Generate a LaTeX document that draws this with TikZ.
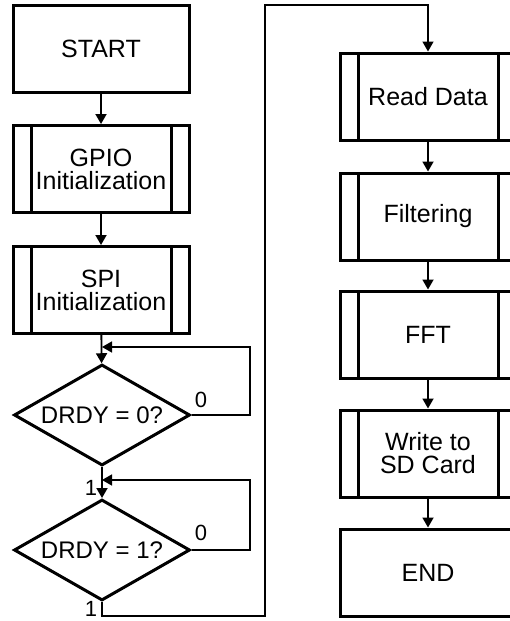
\documentclass[tikz,border=0pt]{standalone}
\usepackage{fontspec}
\setmainfont{Liberation Sans}
\usetikzlibrary{shapes.geometric,arrows.meta}
\begin{document}
\begin{tikzpicture}[x=1pt,y=-1pt,
 box/.style={draw,line width=3pt,minimum width=176pt,minimum height=87pt,inner sep=0pt,align=center,font=\fontsize{25}{23}\selectfont},
 proc/.style={box,path picture={\draw[line width=3pt]
   ([xshift=18pt]path picture bounding box.north west) -- ([xshift=18pt]path picture bounding box.south west)
   ([xshift=-18pt]path picture bounding box.north east) -- ([xshift=-18pt]path picture bounding box.south east);}},
 dec/.style={draw,diamond,line width=3pt,minimum width=176pt,minimum height=101pt,inner sep=0pt,aspect=1.7,font=\fontsize{24}{23}\selectfont},
 arr/.style={line width=1.8pt,-{Triangle[length=10pt,width=11pt]}},
 loop/.style={line width=1.5pt,-{Triangle[length=10pt,width=11pt]}},
 lbl/.style={font=\fontsize{22}{22}\selectfont,inner sep=0pt}]
\useasboundingbox (0,0) rectangle (510,621);
\clip (0,0) rectangle (510,621);
\fill[white] (0,0) rectangle (510,621);
% left column
\node[box]  (start) at (101,49)  {START};
\node[proc] (gpio)  at (101,169) {GPIO\\Initialization};
\node[proc] (spi)   at (101,290) {SPI\\Initialization};
\node[dec]  (d1)    at (102,415) {DRDY = 0?};
\node[dec]  (d2)    at (102,550) {DRDY = 1?};
% right column
\node[proc] (rd)    at (428,96.5)  {Read Data};
\node[proc] (filt)  at (428,216.5) {Filtering};
\node[proc] (fft)   at (428,334.5) {FFT};
\node[proc] (wr)    at (428,453.5) {Write to\\SD Card};
\node[box]  (end)   at (428,572.5) {END};
% helper coordinates
\coordinate (j1) at (102,347);
\coordinate (j2) at (102,480);
\coordinate (lx) at (250,0);
\coordinate (b) at (102,616);
\coordinate (rx) at (265,5);
% connectors
\draw[arr] (start) -- (gpio);
\draw[arr] (gpio) -- (spi);
\draw[arr] (spi) -- (d1);
\draw[arr] (d1) -- (d2);
\draw[loop] (d1.east) -- (d1.east -| lx) |- (j1);
\draw[loop] (d2.east) -- (d2.east -| lx) |- (j2);
\draw[loop] (d2.south) -- (b) -| (rx) -| (rd.north);
\draw[arr] (rd) -- (filt);
\draw[arr] (filt) -- (fft);
\draw[arr] (fft) -- (wr);
\draw[arr] (wr) -- (end);
% labels
\node[lbl] (l0a) at (201,400) {0};
\node[lbl] (l0b) at (201,533) {0};
\node[lbl] (l1a) at (91,488) {1};
\node[lbl] (l1b) at (91,609) {1};
\end{tikzpicture}
\end{document}
